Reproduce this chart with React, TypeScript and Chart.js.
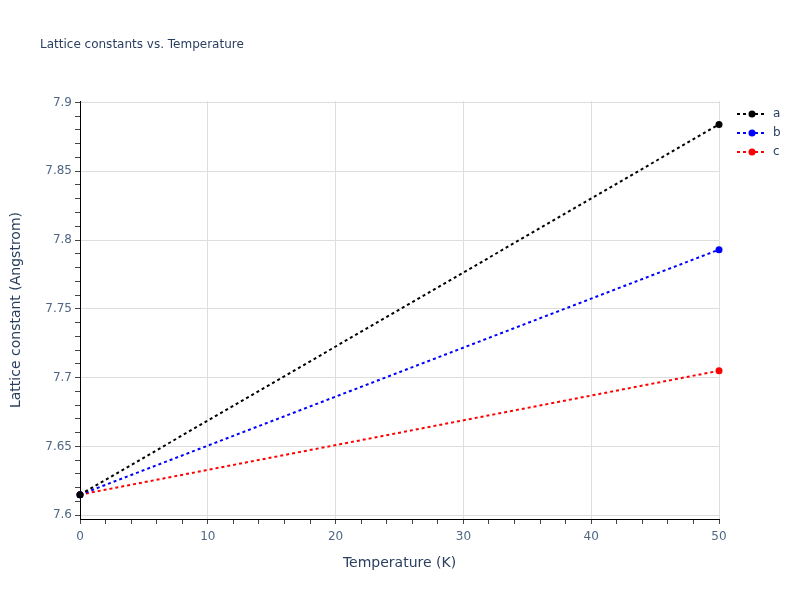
import { useEffect, useRef } from 'react'
import { Chart, registerables } from 'chart.js'

Chart.register(...registerables)

const chartTitle = 'Lattice constants vs. Temperature'
const xTitle = 'Temperature (K)'
const yTitle = 'Lattice constant (Angstrom)'

const temperatures = [0, 50]
const seriesNames = ['a', 'b', 'c']
const seriesColors = ['#000000', '#0000ff', '#ff0000']
const aValues = [7.615, 7.884]
const bValues = [7.615, 7.793]
const cValues = [7.615, 7.705]

const yMajorTicks = [7.6, 7.65, 7.7, 7.75, 7.8, 7.85, 7.9]
const xMajorTicks = [0, 10, 20, 30, 40, 50]
const yMinorStep = 0.01
const xMinorStep = 2

const fontFamily = '"DejaVu Sans", Verdana, sans-serif'
const textColor = '#2a3f5f'
const tickTextColor = '#506784'
const gridColor = '#dedede'

const isMajor = (v: number, majors: number[]) => majors.some((m) => Math.abs(m - v) < 1e-6)

// legend + title drawn by hand, plotly style
const overlayPlugin = {
  id: 'overlay',
  afterDraw(chart: Chart) {
    const ctx = chart.ctx
    ctx.save()
    ctx.font = `12px ${fontFamily}`
    ctx.fillStyle = textColor
    ctx.textBaseline = 'middle'
    ctx.fillText(chartTitle, 40, 45)

    chart.data.datasets.forEach((ds: any, i: number) => {
      const y = 114 + i * 19
      ctx.strokeStyle = ds.borderColor
      ctx.lineWidth = 2
      ctx.setLineDash([3, 3])
      ctx.beginPath()
      ctx.moveTo(737, y)
      ctx.lineTo(767, y)
      ctx.stroke()
      ctx.setLineDash([])
      ctx.fillStyle = ds.borderColor
      ctx.beginPath()
      ctx.arc(752, y, 3.5, 0, Math.PI * 2)
      ctx.fill()
      ctx.fillStyle = textColor
      ctx.fillText(ds.label, 773, y)
    })
    ctx.restore()
  }
}

function minorTicks(min: number, max: number, step: number) {
  const out: { value: number }[] = []
  const n = Math.round((max - min) / step)
  for (let i = 0; i <= n; i++) out.push({ value: +(min + i * step).toFixed(4) })
  return out
}

export default function App() {
  const canvasRef = useRef<HTMLCanvasElement>(null)
  const chartRef = useRef<Chart | null>(null)

  useEffect(() => {
    if (!canvasRef.current) return
    if (chartRef.current) chartRef.current.destroy()

    Chart.defaults.font.family = fontFamily

    const values = [aValues, bValues, cValues]

    chartRef.current = new Chart(canvasRef.current, {
      type: 'line',
      data: {
        datasets: seriesNames.map((name, i) => ({
          label: name,
          data: temperatures.map((t, j) => ({ x: t, y: values[i][j] })),
          borderColor: seriesColors[i],
          backgroundColor: seriesColors[i],
          borderWidth: 2,
          borderDash: [3, 3],
          pointRadius: 3.5,
          pointBorderWidth: 0,
          fill: false,
          tension: 0
        }))
      },
      options: {
        animation: false,
        responsive: true,
        maintainAspectRatio: false,
        clip: false as any,
        layout: {
          padding: { top: 101, right: 81, left: 0, bottom: 0 }
        },
        plugins: {
          legend: { display: false },
          tooltip: { enabled: false },
          title: { display: false }
        },
        scales: {
          x: {
            type: 'linear',
            min: 0,
            max: 50,
            afterBuildTicks: (scale: any) => {
              scale.ticks = minorTicks(0, 50, xMinorStep)
            },
            afterFit: (scale: any) => {
              scale.height = 81
            },
            ticks: {
              autoSkip: false,
              maxRotation: 0,
              padding: 6,
              color: tickTextColor,
              font: { size: 12 },
              callback: (v: any) => (isMajor(Number(v), xMajorTicks) ? String(v) : '')
            },
            grid: {
              color: (c: any) => (isMajor(c.tick?.value, xMajorTicks) ? gridColor : 'rgba(0,0,0,0)'),
              tickColor: '#444444',
              tickLength: 5,
              lineWidth: 1
            },
            border: { display: true, color: '#000000', width: 1 },
            title: {
              display: true,
              text: xTitle,
              color: textColor,
              font: { size: 14 },
              padding: 28
            }
          },
          y: {
            type: 'linear',
            min: 7.5973,
            max: 7.901,
            afterBuildTicks: (scale: any) => {
              scale.ticks = minorTicks(7.6, 7.9, yMinorStep)
            },
            afterFit: (scale: any) => {
              scale.width = 80
            },
            ticks: {
              autoSkip: false,
              padding: 3,
              color: tickTextColor,
              font: { size: 12 },
              callback: (v: any) => (isMajor(Number(v), yMajorTicks) ? String(+Number(v).toFixed(2)) : '')
            },
            grid: {
              color: (c: any) => (isMajor(c.tick?.value, yMajorTicks) ? gridColor : 'rgba(0,0,0,0)'),
              tickColor: '#444444',
              tickLength: 5,
              lineWidth: 1
            },
            border: { display: true, color: '#000000', width: 1 },
            title: {
              display: true,
              text: yTitle,
              color: textColor,
              font: { size: 14 },
              padding: 8
            }
          }
        }
      },
      plugins: [overlayPlugin]
    })

    return () => {
      if (chartRef.current) {
        chartRef.current.destroy()
        chartRef.current = null
      }
    }
  }, [])

  return (
    <div style={{ position: 'absolute', left: 0, top: 0, width: 800, height: 600, background: '#fff' }}>
      <canvas ref={canvasRef} />
    </div>
  )
}
